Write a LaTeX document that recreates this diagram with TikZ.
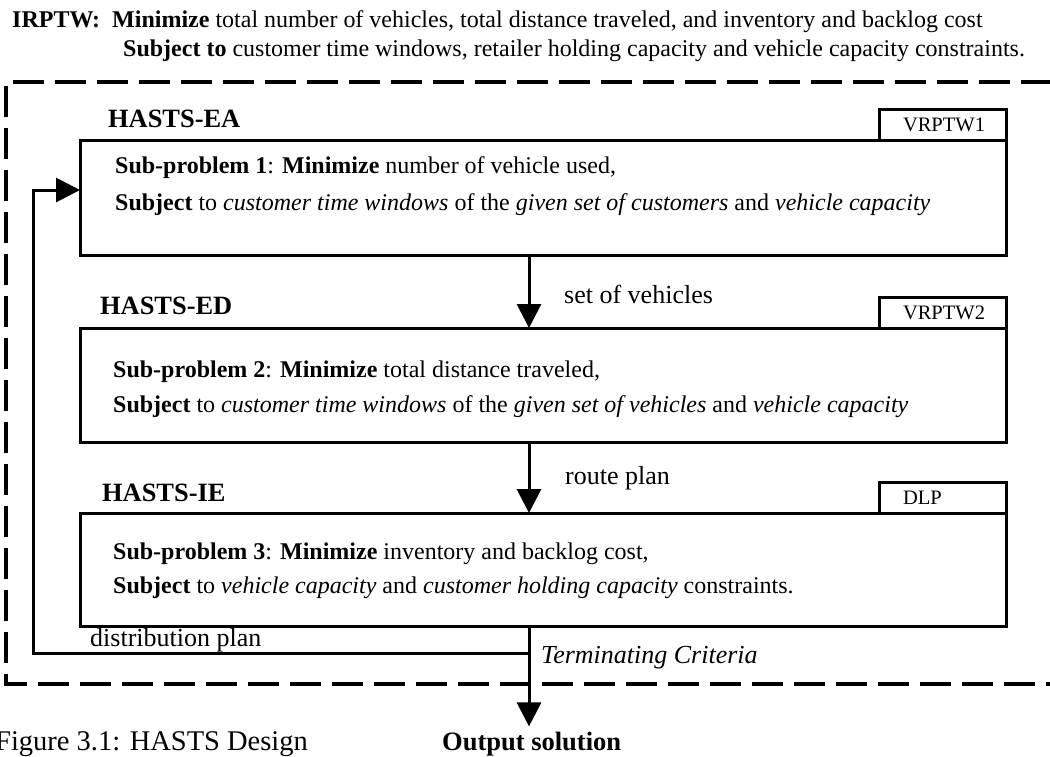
\documentclass[tikz,border=0pt]{standalone}
\usepackage{fontspec}
\setmainfont{Liberation Serif}
\usepackage{tikz}
\usetikzlibrary{positioning,arrows.meta,calc}

\begin{document}
\begin{tikzpicture}[x=1pt,y=-1pt,
		txt/.style={anchor=base west,inner sep=0pt,font=\fontsize{24}{29}\selectfont},
		lbl/.style={anchor=base west,inner sep=0pt,font=\fontsize{26}{31}\selectfont},
		stage/.style={anchor=base west,inner sep=0pt,font=\fontsize{26.4}{31}\selectfont\bfseries},
		probbox/.style={draw,line width=3pt,inner sep=0pt,outer sep=0pt,minimum width=926pt},
		tabbox/.style={draw,line width=3pt,outer sep=0pt,anchor=south east,minimum height=31pt,
			text width=79pt,inner xsep=24pt,inner ysep=0pt,align=left,font=\fontsize{20.5}{24}\selectfont},
		arr/.style={line width=3pt,-{Triangle[length=24pt,width=24pt]}},
		frame/.style={line width=4pt,dash pattern=on 31pt off 11pt}]
		\useasboundingbox (0,0) rectangle (1050,756);
		% problem statement
		\node[txt] (goal) at (12,27) {\textbf{IRPTW:}\ \ \textbf{Minimize} total number of vehicles, total distance traveled, and inventory and backlog cost};
		\node[txt] (cons) at (123,56) {\textbf{Subject to} customer time windows, retailer holding capacity and vehicle capacity constraints.};
		\draw[frame] (1052,82) -- (6,82) -- (6,684) -- (1052,684);
		% stage 1
		\node[stage] (ea) at (108,127) {HASTS-EA};
		\node[probbox,minimum height=115pt] (sp1) at (543,197.5) {};
		\node[tabbox] (tab1) at (sp1.north east) {VRPTW1};
		\node[txt] (sp1a) at (115,173) {\textbf{Sub-problem 1}: \textbf{Minimize} number of vehicle used,};
		\node[txt] (sp1b) at (115,210) {\textbf{Subject} to \textit{customer time windows} of the \textit{given set of customers} and \textit{vehicle capacity}};
		% stage 2
		\node[stage] (ed) at (100,314) {HASTS-ED};
		\node[probbox,minimum height=114pt] (sp2) at (543,385) {};
		\node[tabbox] (tab2) at (sp2.north east) {VRPTW2};
		\node[txt] (sp2a) at (113,377) {\textbf{Sub-problem 2}: \textbf{Minimize} total distance traveled,};
		\node[txt] (sp2b) at (113,412) {\textbf{Subject} to \textit{customer time windows} of the \textit{given set of vehicles} and \textit{vehicle capacity}};
		% stage 3
		\node[stage] (ie) at (102,501) {HASTS-IE};
		\node[probbox,minimum height=113pt] (sp3) at (543,569.5) {};
		\node[tabbox] (tab3) at (sp3.north east) {DLP};
		\node[txt] (sp3a) at (113,559) {\textbf{Sub-problem 3}: \textbf{Minimize} inventory and backlog cost,};
		\node[txt] (sp3b) at (113,593) {\textbf{Subject} to \textit{vehicle capacity} and \textit{customer holding capacity} constraints.};
		% flow
		\coordinate (mid) at (529,0);
		\coordinate (back) at (33,653);
		\node[lbl,font=\fontsize{26.5}{31}\selectfont\bfseries] (out) at (442,750) {Output solution};
		\draw[arr] (sp1.south -| mid) -- (sp2.north -| mid);
		\draw[arr] (sp2.south -| mid) -- (sp3.north -| mid);
		\draw[arr,shorten >=5pt] (sp3.south -| mid) -- (out.north -| mid);
		\draw[arr] (back -| mid) -- (back) |- ([yshift=7.5pt]sp1.west);
		\node[lbl] (veh) at (564,303) {set of vehicles};
		\node[lbl] (route) at (565,484) {route plan};
		\node[lbl] (dist) at (90,646) {distribution plan};
		\node[lbl,font=\fontsize{26}{31}\selectfont\itshape] (term) at (541,663) {Terminating Criteria};
		\node[lbl,font=\fontsize{28.5}{33}\selectfont] (cap) at (-5,750) {Figure 3.1: HASTS Design};
	\end{tikzpicture}
\end{document}
